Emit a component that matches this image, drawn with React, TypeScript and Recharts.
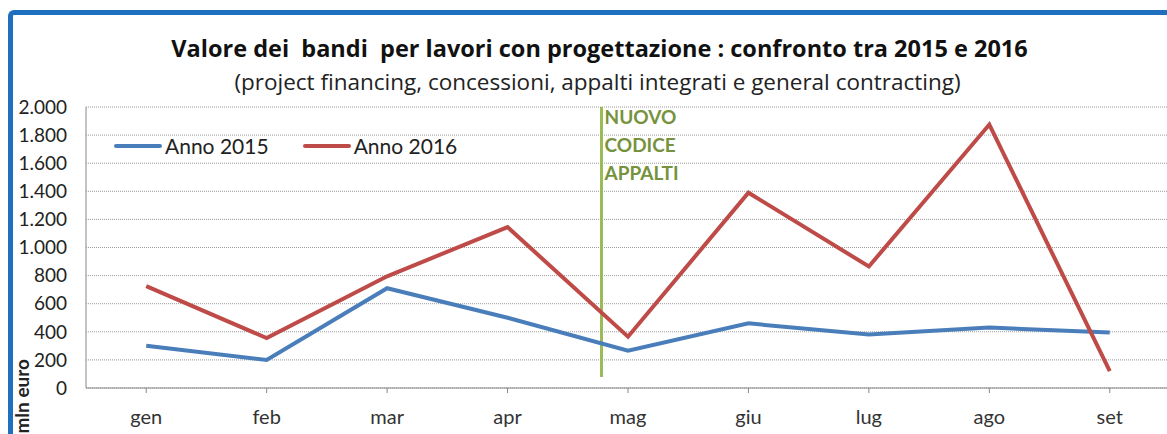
import { LineChart, Line, XAxis, YAxis, CartesianGrid, ReferenceLine } from 'recharts';

const months = ['gen', 'feb', 'mar', 'apr', 'mag', 'giu', 'lug', 'ago', 'set'];
const anno2015 = [300, 200, 710, 500, 265, 460, 380, 430, 395];
const anno2016 = [725, 355, 795, 1145, 365, 1390, 865, 1875, 120];
const yTicks = [0, 200, 400, 600, 800, 1000, 1200, 1400, 1600, 1800, 2000];
// the "nuovo codice appalti" marker sits between apr and mag
const codicePos = 3.78;
const codiceLines = ['NUOVO', 'CODICE', 'APPALTI'];
const seriesNames = ['Anno 2015', 'Anno 2016'];

const BLUE = '#4A7EBB';
const RED = '#BE4B48';
const GREEN = '#9BBB59';
const FONT = 'Lato, "Open Sans", sans-serif';
const TITLE_FONT = '"Open Sans", Lato, sans-serif';

const fmt = (v: number) => String(v).replace(/\B(?=(\d{3})+(?!\d))/g, '.');

const data = months.map((m, i) => ({ idx: i, month: m, a2015: anno2015[i], a2016: anno2016[i] }));

function LegendBox() {
  const colors = [BLUE, RED];
  return (
    <div style={{ position: 'absolute', left: 114, top: 133, display: 'flex', alignItems: 'center', fontFamily: FONT, fontSize: 21, color: '#222' }}>
      {seriesNames.map((name, i) => (
        <div key={name} style={{ display: 'flex', alignItems: 'center', marginRight: 34 }}>
          <span style={{ display: 'inline-block', width: 48, height: 4, background: colors[i], borderRadius: 2, marginRight: 3 }} />
          <span>{name}</span>
        </div>
      ))}
    </div>
  );
}

export default function App() {
  return (
    <div style={{ position: 'fixed', left: 0, top: 0, width: 1167, height: 434, overflow: 'hidden', background: '#fff' }}>
      <div
        style={{
          position: 'absolute', left: 8, top: 10, width: 1200, height: 500,
          borderTop: '5px solid #1F6FBF', borderLeft: '5px solid #1F6FBF', borderTopLeftRadius: 6,
        }}
      />
      <div style={{ position: 'absolute', left: 0, width: 1199, top: 32, textAlign: 'center', fontFamily: TITLE_FONT, fontWeight: 700, fontSize: 23.5, color: '#111', whiteSpace: 'pre' }}>
        {'Valore dei  bandi  per lavori con progettazione : confronto tra 2015 e 2016'}
      </div>
      <div style={{ position: 'absolute', left: 0, width: 1195, top: 66, textAlign: 'center', fontFamily: TITLE_FONT, fontSize: 22.5, color: '#222' }}>
        (project financing, concessioni, appalti integrati e general contracting)
      </div>
      <div style={{ position: 'absolute', left: 0, top: 0 }}>
        <LineChart width={1170} height={434} data={data} margin={{ top: 107, right: 0, bottom: 0, left: 0 }}>
          <CartesianGrid vertical={false} stroke="#9a9a9a" strokeDasharray="1 1" />
          <XAxis
            dataKey="idx"
            type="number"
            domain={[-0.5, 8.5]}
            ticks={months.map((_, i) => i)}
            interval={0}
            tickFormatter={(i: number) => months[i] ?? ''}
            height={46}
            stroke="#888"
            tickSize={5}
            tickMargin={17}
            tick={{ fill: '#333', fontSize: 20, fontFamily: FONT }}
          />
          <YAxis
            domain={[0, 2000]}
            ticks={yTicks}
            interval={0}
            width={86}
            stroke="#888"
            tickLine={false}
            tickSize={0}
            tickMargin={19}
            tickFormatter={fmt}
            tick={{ fill: '#222', fontSize: 19, fontFamily: FONT }}
            label={({ viewBox }: any) => (
              <text
                x={viewBox.x + 29}
                y={359}
                transform={`rotate(-90 ${viewBox.x + 29} 359)`}
                textAnchor="end"
                fontSize={19}
                fontWeight={700}
                fontFamily={FONT}
                fill="#222"
              >
                mln euro
              </text>
            )}
          />
          <ReferenceLine
            segment={[{ x: codicePos, y: 2000 }, { x: codicePos, y: 78 }]}
            stroke={GREEN}
            strokeWidth={3}
            label={({ viewBox }: any) => (
              <g>
                {codiceLines.map((t, i) => (
                  <text
                    key={t}
                    x={viewBox.x + 3}
                    y={124 + i * 28}
                    fontSize={19}
                    fontWeight={700}
                    fontFamily={FONT}
                    fill="#76923C"
                  >
                    {t}
                  </text>
                ))}
              </g>
            )}
          />
          <Line type="linear" dataKey="a2015" name={seriesNames[0]} stroke={BLUE} strokeWidth={4} dot={false} isAnimationActive={false} />
          <Line type="linear" dataKey="a2016" name={seriesNames[1]} stroke={RED} strokeWidth={4} dot={false} isAnimationActive={false} />
        </LineChart>
      </div>
      <LegendBox />
    </div>
  );
}
